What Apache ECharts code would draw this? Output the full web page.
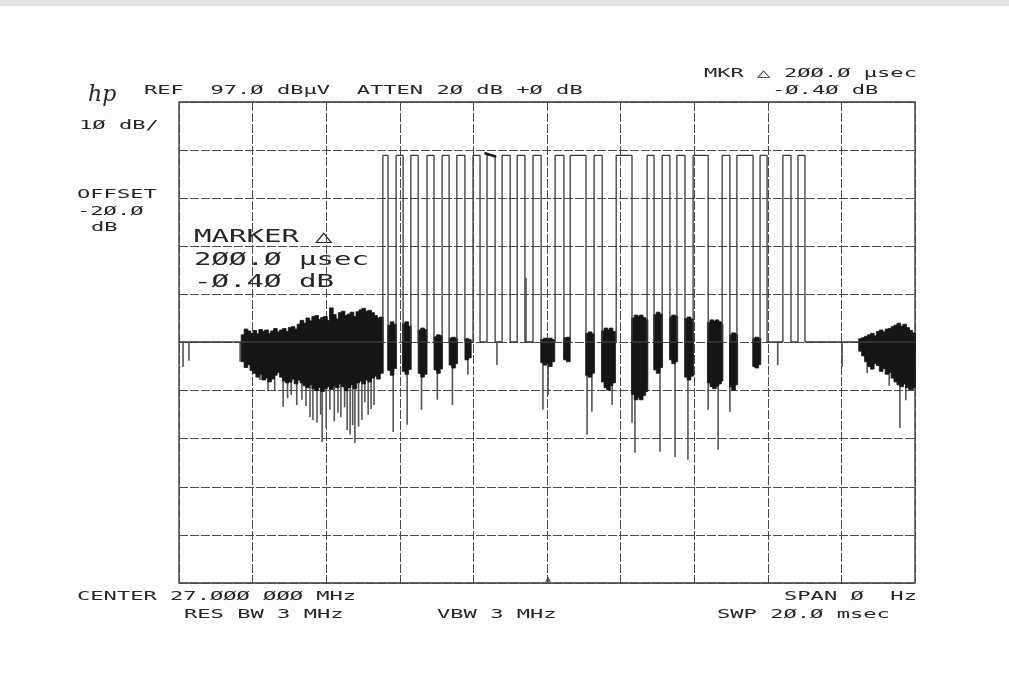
<!DOCTYPE html>
<html>
<head>
<meta charset="utf-8">
<script src="https://cdn.jsdelivr.net/npm/echarts@6.0.0/dist/echarts.min.js"></script>
<style>
  html, body { margin: 0; padding: 0; background: #fdfdfd; }
  #chart { width: 1009px; height: 677px; }
</style>
</head>
<body>
<div id="chart"></div>
<script>
// ---- Axis setup (sweep time in ms, level in dBµV) ----
const sweepRange = [0, 20];          // SWP 20.0 msec
const levelRange = [-3, 97];         // REF 97.0 dBµV, 10 dB/div
const xStep = 2;
const yStep = 10;

// ---- Pulse train (ms) ----
const pulseStart = [5.54, 5.90, 6.30, 6.74, 7.15, 7.55, 7.99, 8.37, 8.78, 9.19, 9.62, 10.22,
                    10.63, 11.28, 11.88, 12.72, 13.13, 13.53, 13.97, 14.76, 15.16, 15.79, 16.41, 16.82];
const pulseEnd   = [5.68, 6.09, 6.50, 6.93, 7.34, 7.77, 8.18, 8.59, 9.00, 9.40, 9.84, 10.46,
                    11.06, 11.50, 12.31, 12.91, 13.34, 13.75, 14.38, 14.97, 15.60, 15.98, 16.63, 17.01];
const pulseTop = 85.9;     // dBµV
const floorLevel = 47.1;   // dBµV

// ---- Noise bursts: [time ms, upper dBµV, lower dBµV] ----
const noiseLeft = [
  [1.74,48.6,43.0],[1.82,49.8,41.8],[1.90,49.4,42.4],[1.98,48.9,41.2],[2.06,49.5,40.6],[2.14,48.8,39.8],
  [2.22,49.7,40.4],[2.30,49.3,39.2],[2.38,49.6,39.6],[2.46,48.9,38.8],[2.54,49.4,39.4],[2.62,49.9,40.2],
  [2.70,49.2,40.8],[2.78,49.6,39.8],[2.86,49.9,39.0],[2.94,49.3,38.6],[3.02,50.1,38.8],[3.10,50.3,39.4],
  [3.18,49.8,38.4],[3.26,50.8,39.2],[3.34,51.6,38.6],[3.42,51.0,38.0],[3.50,52.1,37.6],[3.58,51.5,38.2],
  [3.66,52.4,37.4],[3.74,52.6,37.0],[3.82,51.8,37.6],[3.90,52.2,36.8],[3.98,52.4,37.4],[4.06,51.6,37.8],
  [4.14,54.2,37.2],[4.22,52.8,38.0],[4.30,51.9,37.6],[4.38,53.2,38.4],[4.46,53.5,37.8],[4.54,52.6,37.0],
  [4.62,52.9,37.6],[4.70,53.3,38.2],[4.78,52.4,37.4],[4.86,53.4,38.6],[4.94,53.8,39.0],[5.02,54.1,38.4],
  [5.10,53.5,39.2],[5.18,53.7,38.8],[5.26,53.2,39.6],[5.34,52.6,40.0],[5.42,52.1,39.4],[5.50,52.3,40.6]
];
const noiseGaps = [
  [5.72,50.6,41.2],[5.79,51.3,40.2],[5.86,50.8,41.6],
  [6.12,50.9,41.0],[6.19,51.3,40.4],[6.26,50.4,41.4],
  [6.55,49.6,40.6],[6.62,50.0,39.8],[6.69,49.7,40.4],
  [6.98,48.2,41.3],[7.05,48.6,40.6],[7.11,48.4,41.5],
  [7.39,47.9,42.3],[7.46,48.1,41.7],[7.52,47.8,42.6],
  [7.82,47.8,43.4],[7.89,47.6,43.8],
  [9.88,47.6,42.8],[9.95,47.9,42.3],[10.02,47.7,42.9],[10.09,47.9,42.0],[10.16,47.6,43.0],
  [10.50,48.0,43.4],[10.58,48.1,43.0],
  [11.10,48.9,40.2],[11.17,49.2,39.8],[11.24,48.8,40.6],
  [11.53,49.4,38.8],[11.60,50.0,37.6],[11.67,49.6,37.1],[11.74,50.0,38.0],[11.81,49.3,38.6],
  [12.35,52.1,36.2],[12.42,52.7,35.1],[12.49,52.4,35.6],[12.56,52.7,35.1],[12.63,52.2,36.0],[12.69,51.8,36.8],
  [12.95,52.8,41.3],[13.02,53.3,40.6],[13.09,52.9,41.8],
  [13.38,52.3,43.4],[13.44,52.7,42.6],[13.50,52.5,43.0],
  [13.79,52.0,39.8],[13.86,52.3,39.2],[13.93,51.9,40.0],
  [14.41,51.2,38.6],[14.48,51.7,37.8],[14.55,51.4,37.4],[14.62,51.7,37.9],[14.69,51.3,38.4],[14.73,50.8,39.0],
  [15.01,48.6,37.8],[15.07,49.0,37.1],[15.13,48.7,38.2],
  [15.64,47.8,42.0],[15.70,48.1,41.7],[15.76,47.9,42.4]
];
const noiseRight = [
  [18.52,47.8,45.2],[18.60,48.0,44.2],[18.68,48.3,43.0],[18.76,48.6,42.0],[18.84,48.9,41.5],[18.92,48.4,42.6],
  [19.00,49.3,42.2],[19.08,49.6,41.0],[19.16,49.2,41.6],[19.24,49.8,40.4],[19.32,49.9,40.8],[19.40,50.3,39.6],
  [19.48,50.6,38.8],[19.56,51.0,38.2],[19.64,50.4,37.8],[19.72,50.8,38.4],[19.80,50.1,37.6],[19.88,49.5,37.2],
  [19.96,49.0,37.6]
];

// ---- Single spikes: [time ms, extreme dBµV] ----
const spikesDown = [
  [0.11,41.9],[0.27,43.2],[1.66,43.0],[2.20,39.2],[2.42,37.1],[2.60,37.0],[2.83,33.6],[2.95,35.4],
  [3.05,36.1],[3.20,34.0],[3.34,35.1],[3.45,33.8],[3.56,31.5],[3.64,30.9],[3.75,30.3],[3.85,32.0],
  [3.89,26.3],[4.00,29.2],[4.10,33.0],[4.22,30.6],[4.32,32.4],[4.40,31.5],[4.50,33.5],[4.57,28.8],
  [4.65,27.8],[4.72,29.8],[4.78,26.1],[4.88,29.5],[4.97,30.9],[5.05,34.6],[5.14,32.0],[5.22,33.2],
  [5.30,34.0],
  [5.82,28.4],[6.20,29.9],[6.59,33.0],[7.02,35.1],[7.43,34.0],[7.85,40.3],[8.64,42.3],[9.89,33.0],
  [10.03,36.1],[11.09,27.8],[11.22,32.6],[11.77,34.0],[12.31,30.3],[12.39,24.1],[12.58,35.1],[13.07,24.3],
  [13.48,23.2],[13.83,22.6],[14.38,33.0],[14.65,24.7],[14.97,32.6],[16.27,42.3],[18.02,41.9],[18.70,40.6],
  [18.83,41.3],[19.30,38.0],[19.59,29.2],[19.75,35.0],[19.95,37.1]
];
const spikesUp = [[9.43,60.4]];

// ---- Markers ----
const deltaMarker = [[8.30,86.4],[8.62,85.6]];
const sweepMarker = [[10.03,-2.2]];

// ---- Build trace from pulse edges ----
const trace = [[sweepRange[0], floorLevel]];
pulseStart.forEach((s, i) => {
  trace.push([s, floorLevel], [s, pulseTop], [pulseEnd[i], pulseTop], [pulseEnd[i], floorLevel]);
});
trace.push([sweepRange[1], floorLevel]);

const noiseAll = noiseLeft.concat(noiseGaps, noiseRight);
const NOISE_HALF = 0.05;

const chart = echarts.init(document.getElementById('chart'), null, { renderer: 'canvas' });

const SMALL = '12px "DejaVu Sans Mono", monospace';
const LARGE = '18px "DejaVu Sans Mono", monospace';
function txt(str, x, y, font, sx, color) {
  return {
    type: 'text', x: x, y: y, scaleX: sx, scaleY: 1, originX: 0, originY: 0, silent: true,
    style: { text: str, x: 0, y: 0, align: 'left', verticalAlign: 'middle', font: font, fill: color || '#262626' }
  };
}
const S = 1.84, L = 1.615;

const option = {
  backgroundColor: '#fdfdfd',
  animation: false,
  grid: { left: 179, top: 102, width: 736, height: 481, show: true, borderColor: '#3a3a3a', borderWidth: 1.3, backgroundColor: 'transparent' },
  xAxis: {
    type: 'value', min: sweepRange[0], max: sweepRange[1], interval: xStep,
    axisLine: { show: false }, axisTick: { show: false }, axisLabel: { show: false },
    splitLine: { show: true, lineStyle: { color: '#4a4a4a', width: 1, type: [9, 2] } }
  },
  yAxis: {
    type: 'value', min: levelRange[0], max: levelRange[1], interval: yStep,
    axisLine: { show: false }, axisTick: { show: false }, axisLabel: { show: false },
    splitLine: { show: true, lineStyle: { color: '#4a4a4a', width: 1.2, type: [9, 2] } }
  },
  series: [
    {
      type: 'custom', silent: true, z: 2,
      data: spikesDown.concat(spikesUp),
      encode: { x: 0, y: 1 },
      renderItem: function (params, api) {
        const a = api.coord([api.value(0), floorLevel]);
        const b = api.coord([api.value(0), api.value(1)]);
        return { type: 'line', shape: { x1: a[0], y1: a[1], x2: b[0], y2: b[1] },
                 style: { stroke: '#555555', lineWidth: 1.6 } };
      }
    },
    {
      type: 'custom', silent: true, z: 3,
      data: noiseAll,
      encode: { x: 0, y: [1, 2] },
      renderItem: function (params, api) {
        const t = api.value(0);
        const p1 = api.coord([t - NOISE_HALF, api.value(1)]);
        const p2 = api.coord([t + NOISE_HALF, api.value(2)]);
        return { type: 'rect', shape: { x: p1[0], y: p1[1], width: p2[0] - p1[0], height: p2[1] - p1[1] },
                 style: { fill: '#161616', stroke: '#161616', lineWidth: 0.8 } };
      }
    },
    {
      type: 'line', data: trace, showSymbol: false, silent: true, z: 4,
      lineStyle: { color: '#3a3a3a', width: 1.3 }
    },
    {
      type: 'line', data: deltaMarker, showSymbol: false, silent: true, z: 5,
      lineStyle: { color: '#1a1a1a', width: 2.4 }
    },
    {
      type: 'scatter', data: sweepMarker, symbol: 'triangle', symbolSize: [6, 5], silent: true, z: 5,
      itemStyle: { color: '#333' }
    }
  ],
  graphic: [
    { type: 'rect', shape: { x: 0, y: 0, width: 1009, height: 6 }, style: { fill: '#e6e6e6' }, silent: true },
    { type: 'text', x: 88, y: 95, silent: true,
      style: { text: 'hp', x: 0, y: 0, align: 'left', verticalAlign: 'middle',
               font: 'italic 22px "DejaVu Serif", serif', fill: '#262626' } },
    txt('REF  97.Ø dBµV  ATTEN 2Ø dB +Ø dB', 144, 91, SMALL, S),
    txt('MKR', 704, 73.5, SMALL, S),
    txt('△', 757, 73.5, SMALL, S),
    txt('2ØØ.Ø µsec', 784, 73.5, SMALL, S),
    txt('-Ø.4Ø dB', 772, 91, SMALL, S),
    txt('1Ø dB/', 79, 126, SMALL, S),
    txt('OFFSET', 77, 194.5, SMALL, S),
    txt('-2Ø.Ø', 77, 212, SMALL, S),
    txt('dB', 91, 228, SMALL, S),
    txt('MARKER', 194, 237, LARGE, L),
    txt('△', 315, 237, LARGE, L),
    txt('2ØØ.Ø µsec', 194, 260, LARGE, L),
    txt('-Ø.4Ø dB', 194, 282, LARGE, L),
    txt('CENTER 27.ØØØ ØØØ MHz', 77, 597, SMALL, S),
    txt('RES BW 3 MHz', 184, 614.5, SMALL, S),
    txt('VBW 3 MHz', 437, 614.5, SMALL, S),
    txt('SPAN Ø  Hz', 784, 597, SMALL, S),
    txt('SWP 2Ø.Ø msec', 717, 614.5, SMALL, S)
  ]
};
chart.setOption(option);
</script>
</body>
</html>
